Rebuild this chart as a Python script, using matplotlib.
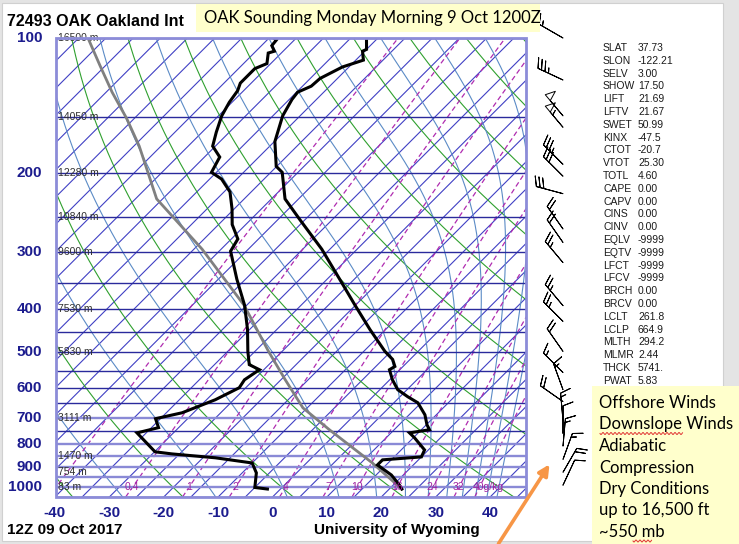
import numpy as np
import matplotlib
matplotlib.use("Agg")
import matplotlib.pyplot as plt
from matplotlib.patches import Rectangle, FancyArrowPatch
from matplotlib.lines import Line2D

W, H = 739, 544

# sounding (hPa, deg C)
TEMP_P = [1008, 987, 938, 891, 868, 859, 855, 825, 775, 756, 744, 725, 689, 648, 628,
          606, 576, 547, 538, 519, 498, 445, 393, 344, 295, 253, 228, 199, 193, 170,
          149, 137, 132, 128, 123, 116, 112, 107, 106, 100]
TEMP_C = [22.3, 21.1, 17.8, 13.4, 13.4, 18.0, 20.0, 19.3, 15.2, 13.4, 16.5, 15.1, 12.9,
          9.4, 6.4, 3.3, 0.5, -1.9, -1.5, -3.2, -6.1, -12.9, -20.1, -27.7, -36.5, -46.1,
          -52.5, -57.9, -60.1, -64.9, -68.2, -69.5, -69.8, -68.4, -68.2, -66.2, -63.6,
          -65.4, -65.0, -67.1]

DEWP_P = [1008, 1000, 928, 882, 859, 842, 833, 756, 736, 703, 682, 638, 600, 576, 547,
          533, 498, 445, 393, 344, 298, 280, 260, 240, 220, 206, 199, 184, 174, 162,
          149, 139, 131, 126, 117, 114, 108, 107, 104, 101, 100]
DEWP_C = [-2.4, -5.0, -7.4, -10.0, -17.7, -26.4, -29.9, -36.7, -33.7, -35.9, -32.1,
          -28.4, -26.2, -26.7, -25.8, -28.6, -31.3, -35.4, -40.4, -46.6, -52.9, -53.8,
          -57.5, -60.4, -63.9, -67.8, -70.9, -72.2, -75.5, -77.4, -79.4, -80.5, -81.1,
          -82.0, -82.0, -80.7, -82.4, -81.6, -83.1, -83.3, -84.2]

PARCEL_P = [1008, 882, 744, 665, 576, 498, 393, 295, 228, 174, 151, 132, 115, 100]
PARCEL_C = [22.3, 12.1, -1.9, -10.8, -19.2, -27.5, -40.5, -58.5, -76.1, -89.0, -96.4,
            -103.9, -111.1, -118.3]

WIND_P = [100, 124, 149, 158, 191, 203, 222, 266, 285, 316, 394, 427, 498, 555, 606,
          644, 710, 758, 809, 866, 925, 988]
WIND_DIR = [300, 295, 320, 320, 315, 315, 285, 325, 325, 320, 320, 315, 325, 315, 340,
            305, 355, 0, 5, 20, 30, 25]
WIND_KT = [15, 35, 50, 55, 35, 30, 30, 20, 20, 25, 25, 25, 20, 15, 15, 20, 15, 10, 15,
           15, 20, 10]

PRES_LABELS = [100, 200, 300, 400, 500, 600, 700, 800, 900, 1000]
TEMP_TICKS = [-40, -30, -20, -10, 0, 10, 20, 30, 40]
HEIGHT_P = [100, 150, 200, 250, 300, 400, 500, 700, 850, 925, 1000]
HEIGHT_LABELS = ["16500 m", "14050 m", "12280 m", "10840 m", "9600 m", "7530 m",
                 "5830 m", "3111 m", "1470 m", "754 m", "83 m"]
MIXR_VALUES = [0.1, 0.4, 1, 2, 4, 7, 10, 16, 24, 32, 40]
MIXR_LABELS = ["", "0.4", "1", "2", "4", "7", "10", "16", "24", "32", "40g/kg"]

INDEX_NAMES = ["SLAT", "SLON", "SELV", "SHOW", "LIFT", "LFTV", "SWET", "KINX", "CTOT",
               "VTOT", "TOTL", "CAPE", "CAPV", "CINS", "CINV", "EQLV", "EQTV", "LFCT",
               "LFCV", "BRCH", "BRCV", "LCLT", "LCLP", "MLTH", "MLMR", "THCK", "PWAT"]
INDEX_VALUES = ["37.73", "-122.21", "3.00", "17.50", "21.69", "21.67", "50.99", "-47.5",
                "-20.7", "25.30", "4.60", "0.00", "0.00", "0.00", "0.00", "-9999",
                "-9999", "-9999", "-9999", "0.00", "0.00", "261.8", "664.9", "294.2",
                "2.44", "5741.", "5.83"]

NOTE_LINES = ["Offshore Winds", "Downslope Winds", "Adiabatic", "Compression",
              "Dry Conditions", "up to 16,500 ft", "~550 mb"]

# plot frame in pixels
AX_L, AX_R, AX_T, AX_B = 56, 526, 38, 497
XMIN, XMAX = -39.8, 46.6
PBOT, PTOP = 1050.0, 100.0
K = ((AX_B - AX_T) / np.log(PBOT / PTOP)) / ((AX_R - AX_L) / (XMAX - XMIN))

NAVY = "#1c1c8e"
WY_FONT = "Liberation Sans"
NOTE_FONT = "Lato"


def fx(x):
    return x / W


def fy(y):
    return 1 - y / H


def skew(t, p):
    return np.asarray(t) + K * np.log(PBOT / np.asarray(p))


def sat_vp(t):
    return 6.112 * np.exp(17.67 * t / (t + 243.5))


def draw_background(ax):
    pg = np.geomspace(PBOT, PTOP, 300)

    for p in range(100, 1051, 50):
        if p in (700, 800, 850, 900, 950, 1000):
            ax.axhline(p, color="#8a8ad6", lw=1.7, zorder=1.5)
        else:
            ax.axhline(p, color="#2a2a9c", lw=1.0, zorder=1.5)

    for t in np.arange(-170, 50, 5):
        ax.plot(skew(t, pg), pg, color="#4040c4", lw=0.8, zorder=1)

    for th in np.arange(-60, 221, 20) + 273.15:
        t = th * (pg / 1000.0) ** 0.2857 - 273.15
        ax.plot(skew(t, pg), pg, color="#2fa02f", lw=0.8, zorder=1)

    # moist adiabats as equivalent potential temperature lines
    tgrid = np.linspace(-170, 50, 2201)
    levels = np.arange(-30, 191, 20) + 273.15
    moist = np.full((len(levels), len(pg)), np.nan)
    for j, p in enumerate(pg):
        es = sat_vp(tgrid)
        ok = es < 0.4 * p
        rs = 0.622 * es[ok] / (p - es[ok])
        tk = tgrid[ok] + 273.15
        the = tk * (1000.0 / p) ** 0.2857 * np.exp(2.5e6 * rs / (1004.0 * tk))
        moist[:, j] = np.interp(levels, the, tgrid[ok], right=np.nan)
    for row in moist:
        ax.plot(skew(row, pg), pg, color="#5b8bc6", lw=0.8, zorder=1)

    for r, lab in zip(MIXR_VALUES, MIXR_LABELS):
        e = r * pg / (622.0 + r)
        a = np.log(e / 6.112)
        td = 243.5 * a / (17.67 - a)
        ax.plot(skew(td, pg), pg, color="#b02cb0", lw=0.9, ls=(0, (4, 2.5)), zorder=1.2)
        if lab:
            e0 = r * 1000.0 / (622.0 + r)
            a0 = np.log(e0 / 6.112)
            x0 = skew(243.5 * a0 / (17.67 - a0), 1000.0)
            if lab.endswith("g/kg"):
                ax.text(x0 - 1.2, 1000, lab, color="#a020a0", fontsize=7.5, family=WY_FONT,
                        ha="left", va="center", zorder=5)
            else:
                ax.text(x0, 1000, lab, color="#a020a0", fontsize=7.5, family=WY_FONT,
                        ha="center", va="center", zorder=5)


def draw_sounding(ax):
    ax.plot(skew(PARCEL_C, PARCEL_P), PARCEL_P, color="#808080", lw=2.0, zorder=3)
    ax.plot(skew(DEWP_C, DEWP_P), DEWP_P, color="black", lw=2.2, zorder=4,
            solid_joinstyle="miter")
    ax.plot(skew(TEMP_C, TEMP_P), TEMP_P, color="black", lw=2.2, zorder=4,
            solid_joinstyle="miter")


def draw_labels(ax, fig):
    ytr = ax.get_yaxis_transform()
    xtr = ax.get_xaxis_transform()
    for p in PRES_LABELS:
        ax.text((42 - AX_L) / (AX_R - AX_L), p, str(p), transform=ytr, ha="right",
                va="center", fontsize=11, weight="bold", color=NAVY, family=WY_FONT,
                clip_on=False)
    for p, lab in zip(HEIGHT_P, HEIGHT_LABELS):
        ax.text(0.004, p, lab, transform=ytr, ha="left", va="center", fontsize=7.5,
                color="#303030", family=WY_FONT, zorder=5)
    ylab = (AX_B - 513) / (AX_B - AX_T)
    for t in TEMP_TICKS:
        ax.text(t, ylab, str(t), transform=xtr, ha="center", va="center", fontsize=11,
                weight="bold", color=NAVY, family=WY_FONT, clip_on=False)

    fig.text(fx(7), fy(21), "72493 OAK Oakland Int", fontsize=11.5, weight="bold",
             family=WY_FONT, ha="left", va="center")
    fig.text(fx(7), fy(530), "12Z 09 Oct 2017", fontsize=11, weight="bold",
             family=WY_FONT, ha="left", va="center")
    fig.text(fx(397), fy(530), "University of Wyoming", fontsize=11, weight="bold",
             family=WY_FONT, ha="center", va="center")

    for i, (name, val) in enumerate(zip(INDEX_NAMES, INDEX_VALUES)):
        y = 48 + i * 12.8
        fig.text(fx(603), fy(y), name, fontsize=7.5, family=WY_FONT, color="#1a1a1a",
                 ha="left", va="center")
        fig.text(fx(638), fy(y), val, fontsize=7.5, family=WY_FONT, color="#1a1a1a",
                 ha="left", va="center")


def draw_winds(fig):
    bax = fig.add_axes([fx(528), fy(AX_B), fx(600) - fx(528), fy(AX_T) - fy(AX_B)])
    bax.set_xlim(528 - 563, 600 - 563)
    bax.set_yscale("log")
    bax.set_ylim(PBOT, PTOP)
    bax.axis("off")
    d = np.deg2rad(WIND_DIR)
    spd = np.asarray(WIND_KT, dtype=float)
    u = -spd * np.sin(d)
    v = -spd * np.cos(d)
    bax.barbs(np.zeros(len(WIND_P)), WIND_P, u, v, length=6.3, linewidth=0.7,
              sizes=dict(height=0.36, spacing=0.14, width=0.28),
              barbcolor="black", flagcolor="none", clip_on=False, zorder=5)


def squiggle(fig, x0, x1, y):
    xs = np.arange(x0, x1, 0.5)
    ys = y + 1.0 * np.sin((xs - x0) * np.pi / 2.0)
    fig.lines.append(Line2D(fx(xs), fy(ys), transform=fig.transFigure, color="#e03030",
                            lw=0.7, zorder=12))


def draw_notes(fig):
    fig.patches.append(Rectangle((fx(196), fy(32)), fx(540) - fx(196), fy(4) - fy(32),
                                 transform=fig.transFigure, facecolor="#ffffcc",
                                 edgecolor="none", zorder=10))
    fig.text(fx(204), fy(18), "OAK Sounding Monday Morning 9 Oct 1200Z", fontsize=12,
             family=NOTE_FONT, ha="left", va="center", zorder=11)

    fig.patches.append(Rectangle((fx(592), 0), 1 - fx(592), fy(386),
                                 transform=fig.transFigure, facecolor="#ffffcc",
                                 edgecolor="none", zorder=10))
    for i, line in enumerate(NOTE_LINES):
        fig.text(fx(599), fy(403 + i * 21.5), line, fontsize=12, family=NOTE_FONT,
                 ha="left", va="center", zorder=11)
    squiggle(fig, 600, 683, 433.5)
    squiggle(fig, 633, 652, 541)

    arrow = FancyArrowPatch((fx(497), fy(546)), (fx(551), fy(462)),
                            transform=fig.transFigure, arrowstyle="-|>",
                            mutation_scale=16, lw=2.6, color="#f79646", zorder=12)
    fig.patches.append(arrow)


def main():
    fig = plt.figure(figsize=(W / 100, H / 100), dpi=100, facecolor="#e4e4e4")
    fig.patches.append(Rectangle((fx(2), fy(541)), fx(723) - fx(2), fy(3) - fy(541),
                                 transform=fig.transFigure, facecolor="white",
                                 edgecolor="#d0d0d0", lw=0.8, zorder=-10))

    ax = fig.add_axes([fx(AX_L), fy(AX_B), fx(AX_R) - fx(AX_L), fy(AX_T) - fy(AX_B)])
    ax.set_facecolor("white")
    ax.set_yscale("log")
    ax.set_ylim(PBOT, PTOP)
    ax.set_xlim(XMIN, XMAX)
    ax.set_xticks([])
    ax.set_yticks([])
    ax.minorticks_off()
    for s in ax.spines.values():
        s.set_visible(False)

    draw_background(ax)
    draw_sounding(ax)
    ax.add_patch(Rectangle((0, 0), 1, 1, transform=ax.transAxes, fill=False,
                           edgecolor="#8c8cd8", lw=2.0, clip_on=False, zorder=6))
    draw_labels(ax, fig)
    draw_winds(fig)
    draw_notes(fig)

    fig.savefig("out.png", dpi=100, facecolor=fig.get_facecolor())


if __name__ == "__main__":
    main()
